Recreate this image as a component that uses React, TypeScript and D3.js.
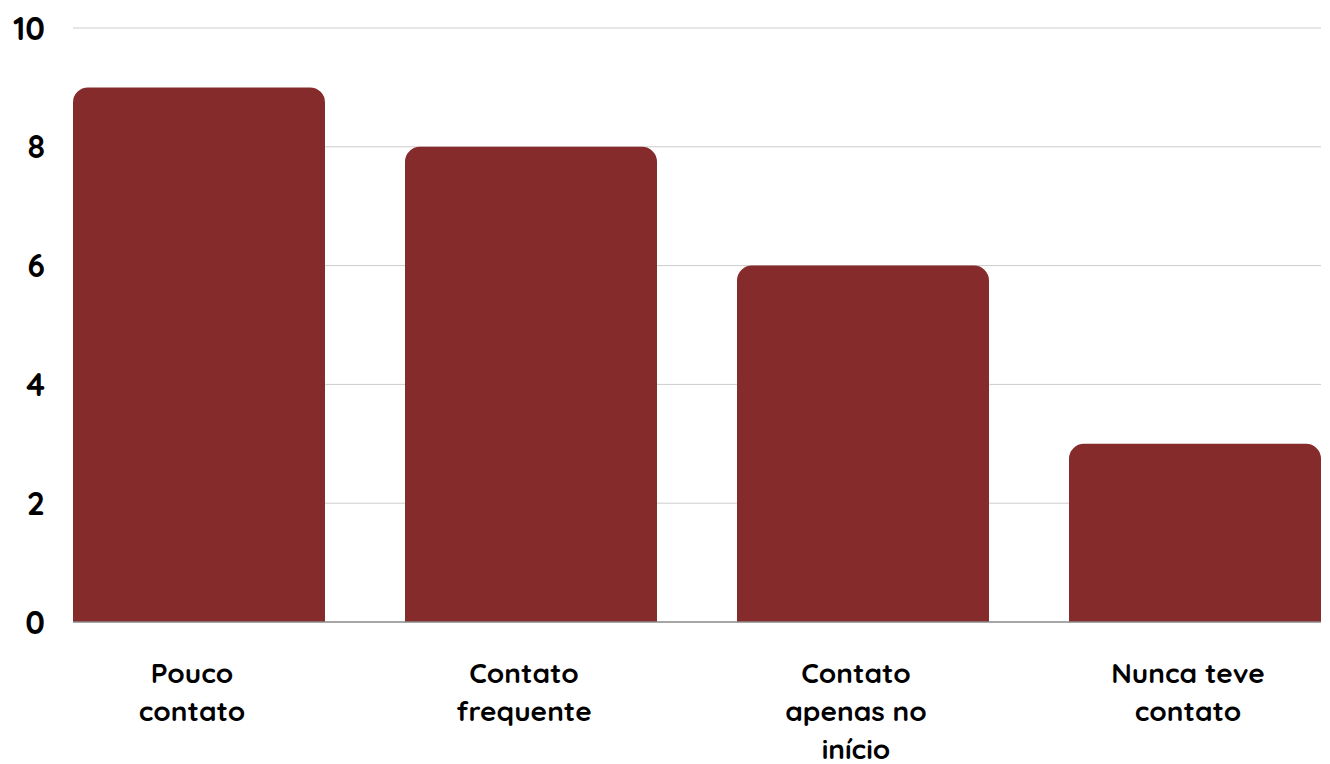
import React from "react";
import * as d3 from "d3";

const categories: string[][] = [
  ["Pouco", "contato"],
  ["Contato", "frequente"],
  ["Contato", "apenas no", "início"],
  ["Nunca teve", "contato"],
];
const values: number[] = [9, 8, 6, 3];
const yTicks: number[] = [0, 2, 4, 6, 8, 10];

const W = 1330;
const H = 764;
const left = 73;
const right = 1321;
const top = 28;
const bottom = 622;
const barColor = "#862B2B";
const font = "Quicksand, Nunito, 'Open Sans', Lato, sans-serif";

function topRounded(x: number, y: number, w: number, h: number, r: number) {
  const rr = Math.min(r, w / 2, h);
  const p = d3.path();
  p.moveTo(x, y + h);
  p.lineTo(x, y + rr);
  p.arcTo(x, y, x + rr, y, rr);
  p.lineTo(x + w - rr, y);
  p.arcTo(x + w, y, x + w, y + rr, rr);
  p.lineTo(x + w, y + h);
  p.closePath();
  return p.toString();
}

export default function App() {
  const keys = categories.map((c) => c.join(" "));
  const x = d3.scaleBand<string>().domain(keys).range([left, right]).paddingInner(80 / 332).paddingOuter(0);
  const y = d3.scaleLinear().domain([0, 10]).range([bottom, top]);

  return (
    <svg width={W} height={H} style={{ position: "absolute", left: 0, top: 0 }}>
      <rect width={W} height={H} fill="#ffffff" />
      {yTicks.map((t) => (
        <g key={t}>
          {t !== 0 && (
            <line x1={left} x2={right} y1={y(t)} y2={y(t)} stroke="#cccccc" strokeWidth={1} />
          )}
          <text
            x={45}
            y={y(t)}
            dy="0.36em"
            textAnchor="end"
            fontFamily={font}
            fontWeight={700}
            fontSize={32}
            fill="#000"
          >
            {t}
          </text>
        </g>
      ))}
      {values.map((v, i) => {
        const bx = x(keys[i])!;
        const bw = x.bandwidth();
        return (
          <path key={i} d={topRounded(bx, y(v), bw, y(0) - y(v), 15)} fill={barColor} />
        );
      })}
      <line x1={left} x2={right} y1={y(0)} y2={y(0)} stroke="#888888" strokeWidth={1.5} />
      {categories.map((lines, i) => {
        const cx = x(keys[i])! + x.bandwidth() / 2 - 7;
        return (
          <text
            key={i}
            textAnchor="middle"
            fontFamily={font}
            fontWeight={700}
            fontSize={28}
            fill="#000"
          >
            {lines.map((ln, j) => (
              <tspan key={j} x={cx} y={683 + j * 38}>
                {ln}
              </tspan>
            ))}
          </text>
        );
      })}
    </svg>
  );
}
